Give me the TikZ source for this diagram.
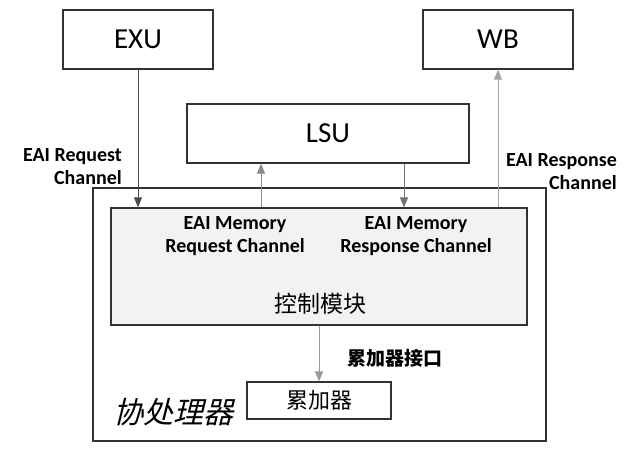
\documentclass[tikz,border=0pt]{standalone}
\usepackage{fontspec}
\setmainfont{Carlito}
\newfontfamily\cjk{Noto Sans CJK SC}
\newfontfamily\cjkit[FakeSlant=0.25]{Noto Sans CJK SC}
\usetikzlibrary{arrows.meta,calc}
\begin{document}
\begin{tikzpicture}[x=1pt,y=-1pt,
  box/.style={draw=black!80, line width=1.2pt, fill=white, inner sep=0pt},
  arr/.style={-{Triangle[length=10pt,width=8pt]}, line width=1pt},
  lbl/.style={font=\fontsize{20}{23}\selectfont\bfseries, inner sep=0pt}]
\useasboundingbox (0,0) rectangle (640,452);
\node[box, minimum width=453pt, minimum height=253pt] (cop) at (319.5,314.5) {};
\node[box, fill=black!5, minimum width=416pt, minimum height=117pt] (ctrl) at (319,266.5) {};
\node[box, minimum width=150pt, minimum height=59pt, font=\fontsize{29}{30}\selectfont] (exu) at (138,39.5) {EXU};
\node[box, minimum width=150pt, minimum height=59pt, font=\fontsize{29}{30}\selectfont] (wb) at (498,39.5) {WB};
\node[box, minimum width=282pt, minimum height=59pt, font=\fontsize{29}{30}\selectfont] (lsu) at (328,133.5) {LSU};
\node[box, minimum width=144pt, minimum height=37pt, font=\cjk\fontsize{22}{24}\selectfont] (acc) at (319,400.5) {累加器};
% labels
\node[lbl, align=right, anchor=east] (reql) at (122,166.5) {EAI Request\\Channel};
\node[lbl, align=right, anchor=east] (rspl) at (617,172) {EAI Response\\Channel};
\node[lbl, align=center] (mreq) at (235,236) {EAI Memory\\Request Channel};
\node[lbl, align=center] (mrsp) at (416,236) {EAI Memory\\Response Channel};
\node[inner sep=0pt, font=\cjk\fontsize{23}{25}\selectfont] (ctl) at (320,304) {控制模块};
\node[inner sep=0pt, anchor=west, font=\cjk\bfseries\fontsize{19}{21}\selectfont] (accif) at (347,358) {累加器接口};
\node[inner sep=0pt, anchor=west, font=\cjkit\fontsize{30}{32}\selectfont] (copl) at (113,412) {协处理器};
% arrows
\draw[arr, draw=black!70] (exu.south) -- (exu.south |- ctrl.north);
\draw[arr, draw=black!45] (ctrl.north -| 261,0) -- (lsu.south -| 261,0);
\draw[arr, draw=black!55] (lsu.south -| 404,0) -- (ctrl.north -| 404,0);
\draw[arr, draw=black!35] (ctrl.north -| wb) -- (wb.south);
\draw[arr, draw=black!40] (ctrl.south -| acc) -- (acc.north);
\end{tikzpicture}
\end{document}
